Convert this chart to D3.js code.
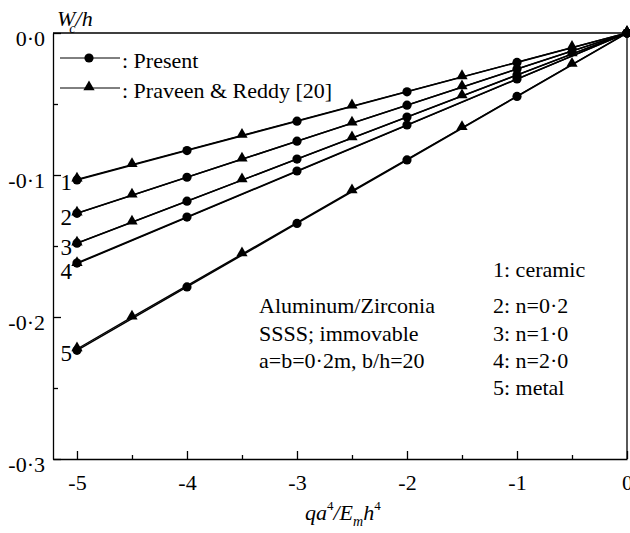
<!DOCTYPE html>
<html><head><meta charset="utf-8">
<script src="https://cdn.jsdelivr.net/npm/d3@7"></script>
<style>
body{margin:0;background:#fff;}
svg text{font-family:"Times New Roman",Times,"Liberation Serif",Tinos,"DejaVu Serif","Noto Serif",FreeSerif,serif;}
</style></head>
<body><svg id="c" width="630" height="533"></svg>
<script>
// ---- data ----
const presentX = [-5, -4, -3, -2, -1, 0];
const praveenX = [-5, -4.5, -4, -3.5, -3, -2.5, -2, -1.5, -1, -0.5, 0];
const curveLabels = ["1", "2", "3", "4", "5"];
const present1 = [-0.1035, -0.0828, -0.0621, -0.0414, -0.0207, 0];
const present2 = [-0.127, -0.1016, -0.0762, -0.0508, -0.0254, 0];
const present3 = [-0.148, -0.1184, -0.0888, -0.0592, -0.0296, 0];
const present4 = [-0.162, -0.1296, -0.0972, -0.0648, -0.0324, 0];
const present5 = [-0.2235, -0.1788, -0.1341, -0.0894, -0.0447, 0];
const praveen1 = [-0.103, -0.0927, null, -0.0721, null, -0.0515, null, -0.0309, null, -0.0103, 0];
const praveen2 = [-0.127, -0.1143, null, -0.0889, null, -0.0635, null, -0.0381, null, -0.0127, 0];
const praveen3 = [-0.148, -0.1332, null, -0.1036, null, -0.074, null, -0.0444, null, -0.0148, 0];
const praveen4 = [-0.1625, null, null, null, null, null, null, null, null, null, 0];
const praveen5 = [-0.2225, -0.2001, null, -0.1557, null, -0.1112, null, -0.0667, null, -0.0222, 0];
const xTicks = [-5, -4, -3, -2, -1, 0];
const xTickLabels = ["-5", "-4", "-3", "-2", "-1", "0"];
const yTicks = [0, -0.1, -0.2, -0.3];
const yTickLabels = ["0·0", "-0·1", "-0·2", "-0·3"];
const legendLabels = [": Present", ": Praveen & Reddy [20]"];
const noteLines = ["Aluminum/Zirconia", "SSSS;  immovable", "a=b=0·2m, b/h=20"];
const keyLines = ["1: ceramic", "2: n=0·2", "3: n=1·0", "4: n=2·0", "5: metal"];

const presentSeries = [present1, present2, present3, present4, present5];
const praveenSeries = [praveen1, praveen2, praveen3, praveen4, praveen5];

const svg = d3.select("#c");
const L = 53, R = 627, T = 33, B = 459;
const x = d3.scaleLinear().domain([-5.218, 0]).range([L, R]);
const y = d3.scaleLinear().domain([-0.3, 0]).range([B, T]);
const FS = 22;

// axes
svg.append("g").attr("transform", `translate(0,${B})`)
  .call(d3.axisBottom(x).tickValues(xTicks).tickSizeInner(-8).tickSizeOuter(0).tickPadding(15)
    .tickFormat((d, i) => xTickLabels[i]));
svg.append("g").attr("transform", `translate(0,${B})`)
  .call(d3.axisBottom(x).tickValues(d3.range(-4.5, 0, 1)).tickSizeInner(-4).tickSizeOuter(0).tickFormat(""))
  .select(".domain").remove();
const yAxis = svg.append("g").attr("transform", `translate(${L},0)`)
  .call(d3.axisLeft(y).tickValues(yTicks).tickSizeInner(-8).tickSizeOuter(0).tickPadding(8)
    .tickFormat((d, i) => yTickLabels[i]));
svg.append("g").attr("transform", `translate(${L},0)`)
  .call(d3.axisLeft(y).tickValues([-0.05, -0.15, -0.25]).tickSizeInner(-5).tickSizeOuter(0).tickFormat(""))
  .select(".domain").remove();
svg.selectAll("g").attr("font-family", null);
svg.selectAll(".tick text").attr("font-size", FS).attr("fill", "#000");
yAxis.selectAll(".tick text").attr("dy", "0.55em");
svg.selectAll(".domain, .tick line").attr("stroke", "#000").attr("stroke-width", 1.3);
// frame top/right
svg.append("path").attr("d", `M${L},${T}H${R}V${B}`).attr("fill", "none").attr("stroke", "#000").attr("stroke-width", 1.3);

// lines
const line = d3.line().x(d => x(d[0])).y(d => y(d[1]));
const tri = d3.symbol().type(d3.symbolTriangle).size(55);
presentSeries.forEach((s) => {
  const pts = presentX.map((xv, i) => [xv, s[i]]);
  svg.append("path").attr("d", line(pts)).attr("fill", "none").attr("stroke", "#000").attr("stroke-width", 1.6);
});
praveenSeries.forEach((s) => {
  const pts = praveenX.map((xv, i) => [xv, s[i]]).filter(d => d[1] !== null);
  svg.append("path").attr("d", line(pts)).attr("fill", "none").attr("stroke", "#000").attr("stroke-width", 1.3);
});
presentSeries.forEach((s) => {
  svg.append("g").selectAll("circle").data(presentX.map((xv, i) => [xv, s[i]])).join("circle")
    .attr("cx", d => x(d[0])).attr("cy", d => y(d[1])).attr("r", 4.6).attr("fill", "#000");
});
praveenSeries.forEach((s) => {
  svg.append("g").selectAll("path").data(praveenX.map((xv, i) => [xv, s[i]]).filter(d => d[1] !== null)).join("path")
    .attr("d", tri).attr("transform", d => `translate(${x(d[0])},${y(d[1]) - 1})`).attr("fill", "#000");
});

// curve labels
curveLabels.forEach((t, k) => {
  const yy = y(presentSeries[k][0]);
  const off = [10, 12, 12, 16, 11][k];
  svg.append("text").attr("x", 72).attr("y", yy + off).attr("text-anchor", "end")
    .attr("font-size", FS + 1).text(t);
});

// legend
const lg = svg.append("g");
[58, 88].forEach((ly, i) => {
  lg.append("line").attr("x1", 60).attr("x2", 120).attr("y1", ly).attr("y2", ly).attr("stroke", "#000").attr("stroke-width", 1);
  if (i === 0) lg.append("circle").attr("cx", 89).attr("cy", ly).attr("r", 4.6).attr("fill", "#000");
  else lg.append("path").attr("d", tri).attr("transform", `translate(89,${ly - 1})`).attr("fill", "#000");
  lg.append("text").attr("x", 122).attr("y", ly + 10).attr("font-size", FS).text(legendLabels[i]);
});

// y title W_c/h
const yt = svg.append("text").attr("x", 57).attr("y", 26).attr("font-size", FS).attr("font-style", "italic");
yt.append("tspan").text("W");
yt.append("tspan").attr("font-size", 14).attr("dx", -6).attr("dy", 7).text("c");
yt.append("tspan").attr("dy", -7).text("/h");

// x title qa^4/E_m h^4
const xt = svg.append("text").attr("x", 305).attr("y", 520).attr("font-size", FS).attr("font-style", "italic");
xt.append("tspan").text("qa");
xt.append("tspan").attr("font-size", 13).attr("font-style", "normal").attr("dy", -10).text("4");
xt.append("tspan").attr("dy", 10).text("/E");
xt.append("tspan").attr("font-size", 14).attr("dy", 6).text("m");
xt.append("tspan").attr("dy", -6).text("h");
xt.append("tspan").attr("font-size", 13).attr("font-style", "normal").attr("dy", -10).text("4");

// notes
noteLines.forEach((t, i) => {
  svg.append("text").attr("x", 259).attr("y", 313 + i * 27.5).attr("font-size", FS).text(t);
});
const keyY = [277, 313, 340.5, 368, 395];
keyLines.forEach((t, i) => {
  svg.append("text").attr("x", 493).attr("y", keyY[i]).attr("font-size", FS).text(t);
});
</script></body></html>
